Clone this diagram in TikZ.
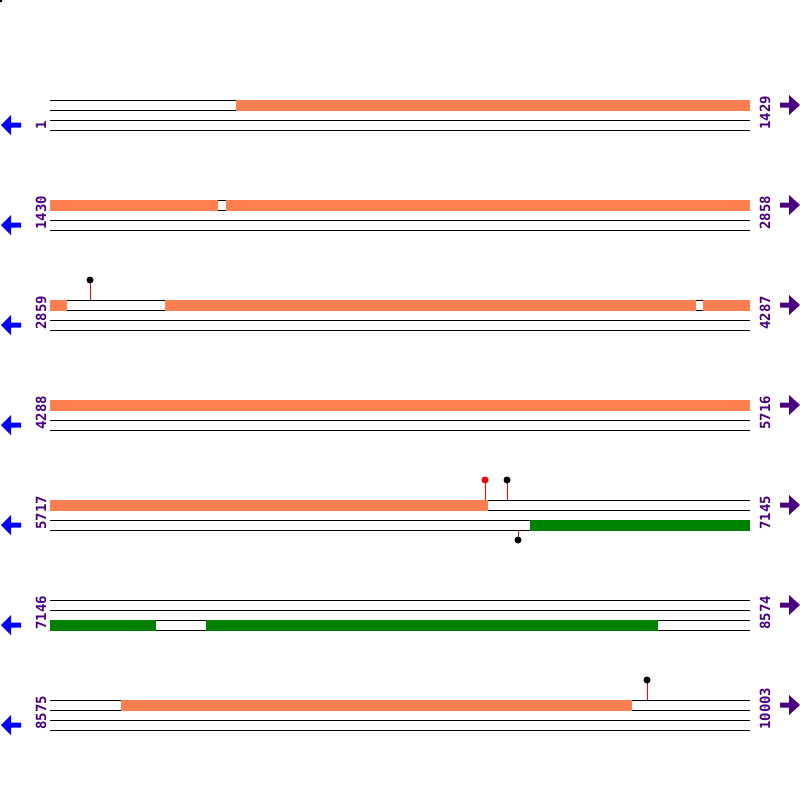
\documentclass[tikz,border=0pt]{standalone}
\usepackage{fontspec}
\setmainfont{DejaVu Sans}
\newfontfamily\labfont{DejaVu Sans Mono}
\definecolor{seqorange}{HTML}{FF7F50}
\definecolor{seqgreen}{HTML}{008000}
\definecolor{labpurple}{HTML}{4B0082}
\definecolor{arrblue}{HTML}{0000FF}
\begin{document}
\begin{tikzpicture}[x=1pt,y=-1pt,
  track/.style={line width=1pt,black},
  obar/.style={fill=seqorange},
  gbar/.style={fill=seqgreen},
  poslabel/.style={rotate=90,anchor=base west,inner sep=0pt,text=labpurple,font=\labfont\bfseries\fontsize{14}{14}\selectfont},
  stem/.style={line width=1pt,red},
  ball/.style={circle,inner sep=0pt,minimum size=7pt,fill=black},
  leftarrow/.style={fill=arrblue},
  rightarrow/.style={fill=labpurple}]
\useasboundingbox (0,0) rectangle (800,800);
\fill[white] (0,0) rectangle (800,800);
\fill[black] (0,0) circle (2.5);
% tracks, labels, arrows
\foreach \r/\lft/\rgt in {0/1/1429,1/1430/2858,2/2859/4287,3/4288/5716,4/5717/7145,5/7146/8574,6/8575/10003}{
  \pgfmathsetmacro{\yz}{100+100*\r}
  \foreach \k in {0,10,20,30}
    \draw[track] (50,\yz+\k) -- (750,\yz+\k);
  \node[poslabel] (L\r) at (46,\yz+30) {\lft};
  \node[poslabel] (R\r) at (770,\yz+30) {\rgt};
  \fill[leftarrow] (1,\yz+25) -- (11,\yz+15) -- (11,\yz+22.5) -- (21,\yz+22.5) -- (21,\yz+27.5) -- (11,\yz+27.5) -- (11,\yz+35) -- cycle;
  \fill[rightarrow] (800,\yz+5) -- (789,\yz-5) -- (789,\yz+2.5) -- (780,\yz+2.5) -- (780,\yz+7.5) -- (789,\yz+7.5) -- (789,\yz+15) -- cycle;
}
% row 1
\fill[obar] (236,99.5) rectangle (750,110.5);
% row 2
\fill[obar] (50,199.5) rectangle (218,210.5);
\fill[obar] (226,199.5) rectangle (750,210.5);
% row 3
\fill[obar] (50,299.5) rectangle (67,310.5);
\fill[obar] (165,299.5) rectangle (696,310.5);
\fill[obar] (703,299.5) rectangle (750,310.5);
\coordinate (s1) at (90,300);
\draw[stem] (s1) -- (90,280);
\node[ball] (b1) at (90,280) {};
% row 4
\fill[obar] (50,399.5) rectangle (750,410.5);
% row 5
\fill[obar] (50,499.5) rectangle (488,510.5);
\fill[gbar] (530,519.5) rectangle (750,530.5);
\coordinate (s2) at (485,500);
\coordinate (s3) at (507,500);
\coordinate (s4) at (518,530);
\draw[stem] (s2) -- (485,480);
\draw[stem] (s3) -- (507,480);
\draw[stem] (s4) -- (518,540);
\node[ball,fill=red] (b2) at (485,480) {};
\node[ball] (b3) at (507,480) {};
\node[ball] (b4) at (518,540) {};
% row 6
\fill[gbar] (50,619.5) rectangle (156,630.5);
\fill[gbar] (206,619.5) rectangle (658,630.5);
% row 7
\fill[obar] (121,699.5) rectangle (632,710.5);
\coordinate (s5) at (647,700);
\draw[stem] (s5) -- (647,680);
\node[ball] (b5) at (647,680) {};
\end{tikzpicture}
\end{document}
